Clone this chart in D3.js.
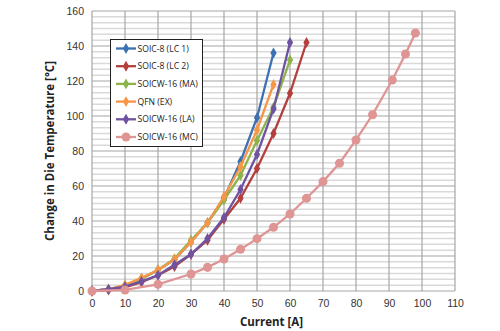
<!DOCTYPE html>
<meta charset="utf-8">
<head>
<script src="https://d3js.org/d3.v7.min.js"></script>
<style>
    body { margin: 0; background: #fff; }
    svg { font-family: "Open Sans", "Noto Sans", sans-serif; }
    .tick text { font-size: 10.5px; fill: #333; }
    .axis-title { font-size: 11.5px; font-weight: bold; fill: #222; }
    .legend text { font-size: 8.6px; fill: #222; }
</style>
</head>
<body>
<svg id="chart" width="500" height="331"></svg>

<script>

    // Current sweep [A] and temperature rise [°C] for each package
    var currentStd = [0, 5, 10, 15, 20, 25, 30, 35, 40, 45, 50, 55, 60, 65];
    var currentMC = [0, 10, 20, 30, 35, 40, 45, 50, 55, 60, 65, 70, 75, 80, 85, 91, 95, 98];

    var soic8LC1 = [0, 1, 3, 7, 12, 18, 28, 39, 53, 74, 99, 136];
    var soic8LC2 = [0, 0.5, 2, 5, 9, 14, 21, 29, 41, 53, 70, 90, 113, 142];
    var soicw16MA = [0, 1, 3, 7, 12, 18.5, 29, 39, 52, 66, 86, 105, 132];
    var qfnEX = [0, 1, 3.5, 7.5, 12, 18, 28, 39, 54, 71, 92, 118];
    var soicw16LA = [0, 1, 2.5, 5.5, 9, 15, 21, 30, 42, 58, 78, 104, 142];
    var soicw16MC = [0, 0.6, 3.8, 9.7, 13.5, 18.3, 23.8, 29.9, 36.4, 44, 53, 62.5, 73, 86.3, 100.7, 120.6, 135.4, 147.4];

    var seriesNames = ["SOIC-8 (LC 1)", "SOIC-8 (LC 2)", "SOICW-16 (MA)", "QFN (EX)", "SOICW-16 (LA)", "SOICW-16 (MC)"];
    var seriesColors = ["#3c72b4", "#b4403e", "#8db34a", "#f79646", "#6f53a0", "#de9594"];

    var series = [
      { name: seriesNames[0], x: currentStd, y: soic8LC1, marker: "diamond" },
      { name: seriesNames[1], x: currentStd, y: soic8LC2, marker: "diamond" },
      { name: seriesNames[2], x: currentStd, y: soicw16MA, marker: "diamond" },
      { name: seriesNames[3], x: currentStd, y: qfnEX, marker: "diamond" },
      { name: seriesNames[4], x: currentStd, y: soicw16LA, marker: "diamond" },
      { name: seriesNames[5], x: currentMC, y: soicw16MC, marker: "circle" }
    ];

    var svg = d3.select("svg");
    var margin = { top: 11, left: 92, right: 45, bottom: 40 };
    var width = 455 - margin.left,
        height = 291 - margin.top;

    var x = d3.scaleLinear().domain([0, 110]).range([margin.left, margin.left + width]);
    var y = d3.scaleLinear().domain([0, 160]).range([margin.top + height, margin.top]);

    // minor horizontal grid (six steps per major division)
    var minor = d3.range(0, 160, 20 / 6).filter(function(v) { return Math.abs(v % 20) > 0.5 && Math.abs(v % 20 - 20) > 0.5; });
    svg.append("g").selectAll("line")
      .data(minor)
      .enter().append("line")
      .attr("x1", x(0)).attr("x2", x(110))
      .attr("y1", function(d) { return y(d); })
      .attr("y2", function(d) { return y(d); })
      .attr("stroke", "#d9d9d9")
      .attr("stroke-width", 1.5);

    // major grid
    svg.append("g").selectAll("line")
      .data(d3.range(0, 161, 20))
      .enter().append("line")
      .attr("x1", x(0)).attr("x2", x(110))
      .attr("y1", function(d) { return y(d); })
      .attr("y2", function(d) { return y(d); })
      .attr("stroke", "#a6a6a6")
      .attr("stroke-width", 1.2);
    svg.append("g").selectAll("line")
      .data(d3.range(0, 111, 10))
      .enter().append("line")
      .attr("y1", y(0)).attr("y2", y(160))
      .attr("x1", function(d) { return x(d); })
      .attr("x2", function(d) { return x(d); })
      .attr("stroke", "#a6a6a6")
      .attr("stroke-width", 1.2);

    // axes (labels only, lines come from the grid)
    var xAxis = svg.append("g")
      .attr("transform", "translate(0," + y(0) + ")")
      .call(d3.axisBottom(x).tickValues(d3.range(0, 111, 10)).tickSize(0).tickPadding(9));
    var yAxis = svg.append("g")
      .attr("transform", "translate(" + x(0) + ",0)")
      .call(d3.axisLeft(y).tickValues(d3.range(0, 161, 20)).tickSize(0).tickPadding(8));
    xAxis.select(".domain").remove();
    yAxis.select(".domain").remove();
    xAxis.selectAll("text").attr("font-family", null).attr("font-size", null);
    yAxis.selectAll("text").attr("font-family", null).attr("font-size", null);

    svg.append("text")
      .attr("class", "axis-title")
      .attr("x", x(55) - 2)
      .attr("y", 326)
      .attr("text-anchor", "middle")
      .text("Current [A]");
    svg.append("text")
      .attr("class", "axis-title")
      .attr("transform", "translate(54," + y(80) + ") rotate(-90)")
      .attr("text-anchor", "middle")
      .text("Change in Die Temperature [°C]");

    var line = d3.line()
      .x(function(d) { return x(d[0]); })
      .y(function(d) { return y(d[1]); });

    var diamond = d3.symbol().type(d3.symbolDiamond).size(34);
    var circle = d3.symbol().type(d3.symbolCircle).size(64);

    // draw each series: line then markers
    series.forEach(function(s, i) {
      var pts = s.y.map(function(v, j) { return [s.x[j], v]; });
      var g = svg.append("g");
      g.append("path")
        .datum(pts)
        .attr("fill", "none")
        .attr("stroke", seriesColors[i])
        .attr("stroke-width", 2.3)
        .attr("d", line);
      g.selectAll("path.mark")
        .data(pts)
        .enter().append("path")
        .attr("class", "mark")
        .attr("transform", function(d) { return "translate(" + x(d[0]) + "," + y(d[1]) + ")"; })
        .attr("d", s.marker === "circle" ? circle : diamond)
        .attr("fill", seriesColors[i]);
    });

    // legend
    var legend = svg.append("g").attr("class", "legend");
    legend.append("rect")
      .attr("x", 110.5).attr("y", 39.5)
      .attr("width", 92).attr("height", 107)
      .attr("fill", "#fff")
      .attr("stroke", "#222")
      .attr("stroke-width", 1);
    var items = legend.selectAll("g.item")
      .data(series)
      .enter().append("g")
      .attr("class", "item")
      .attr("transform", function(d, i) { return "translate(116," + (48.5 + i * 17.7) + ")"; });
    items.append("line")
      .attr("x1", 0).attr("x2", 20)
      .attr("stroke", function(d, i) { return seriesColors[i]; })
      .attr("stroke-width", 2.3);
    items.append("path")
      .attr("transform", "translate(10,0)")
      .attr("d", function(d) { return d.marker === "circle" ? circle() : diamond(); })
      .attr("fill", function(d, i) { return seriesColors[i]; });
    items.append("text")
      .attr("x", 21.5)
      .attr("dy", "0.35em")
      .text(function(d) { return d.name; });

</script>
</body>
